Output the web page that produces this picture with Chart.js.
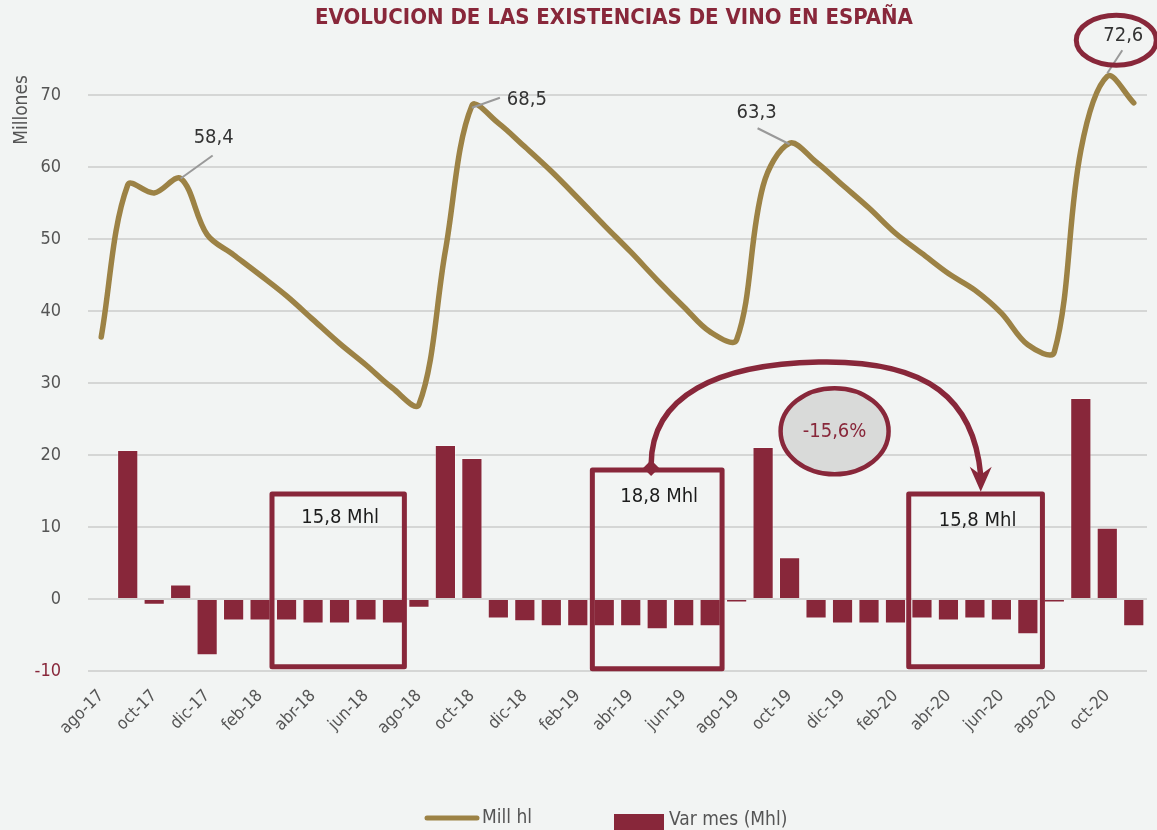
<!DOCTYPE html>
<html lang="es">
<head>
<meta charset="utf-8">
<title>Evolución de las existencias de vino en España</title>
<script src="https://cdn.jsdelivr.net/npm/chart.js@4.4.1/dist/chart.umd.min.js"></script>
<style>
  html, body { margin: 0; padding: 0; background: #f2f4f3; }
  #wrap { width: 1157px; height: 830px; position: relative; }
</style>
</head>
<body>
<div id="wrap"><canvas id="chart" width="1157" height="830"></canvas></div>
<script>
// Months from ago-17 to nov-20
const months = [
  'ago-17','sep-17','oct-17','nov-17','dic-17',
  'ene-18','feb-18','mar-18','abr-18','may-18','jun-18','jul-18','ago-18','sep-18','oct-18','nov-18','dic-18',
  'ene-19','feb-19','mar-19','abr-19','may-19','jun-19','jul-19','ago-19','sep-19','oct-19','nov-19','dic-19',
  'ene-20','feb-20','mar-20','abr-20','may-20','jun-20','jul-20','ago-20','sep-20','oct-20','nov-20'
];

// Stock level, millions of hl
const stockMhl = [
  36.4, 57.5, 56.4, 58.4, 50.6,
  47.8, 45.0, 42.1, 38.8, 35.5, 32.5, 29.3, 27.0, 48.4, 68.5, 66.1, 62.8,
  59.4, 55.7, 51.9, 48.2, 44.3, 40.6, 37.1, 36.0, 57.4, 63.3, 60.7, 57.5,
  54.3, 50.8, 48.0, 45.2, 42.9, 39.7, 35.3, 34.3, 62.3, 72.6, 68.9
];

// Month-on-month change, millions of hl
const monthlyChange = [
  null, 20.7, -0.8, 2.0, -7.8,
  -3.0, -3.0, -3.0, -3.4, -3.4, -3.0, -3.4, -1.2, 21.4, 19.6, -2.7, -3.1,
  -3.8, -3.8, -3.8, -3.8, -4.2, -3.8, -3.8, -0.5, 21.1, 5.8, -2.7, -3.4,
  -3.4, -3.4, -2.7, -3.0, -2.7, -3.0, -4.9, -0.5, 27.9, 9.9, -3.8
];

// Y axis ticks
const yTicks = [-10, 0, 10, 20, 30, 40, 50, 60, 70];

// Highlighted peaks (month index) and their labels
const peakIndex = [3, 14, 26, 38];
const peakLabels = ['58,4', '68,5', '63,3', '72,6'];

// Summed declines over five-month windows
const windowLabels = ['15,8 Mhl', '18,8 Mhl', '15,8 Mhl'];
const changeLabel = '-15,6%';

const RED = '#88273a';
const GOLD = '#9c8245';
const GREY_TXT = '#555555';
const BG = '#f2f4f3';
const FONT = "'Liberation Sans Narrow', 'DejaVu Sans Condensed', 'Roboto', sans-serif";

// Decorations: highlight boxes, arrow, callouts, legend, titles
const decor = {
  id: 'decor',
  beforeDraw(chart) {
    const c = chart.ctx;
    c.save();
    c.fillStyle = BG;
    c.fillRect(0, 0, chart.width, chart.height);
    c.restore();
  },
  afterDatasetsDraw(chart) {
    const c = chart.ctx;
    const xs = chart.scales.x, ys = chart.scales.y;
    const X = v => xs.getPixelForValue(v);
    const Y = v => ys.getPixelForValue(v);
    c.save();

    // Highlight boxes (month-index span, value span)
    const boxes = [
      { x0: 6.45, x1: 11.45, top: 14.6, bottom: -9.4, label: windowLabels[0], ly: 11.3 },
      { x0: 18.55, x1: 23.45, top: 17.9, bottom: -9.7, label: windowLabels[1], ly: 14.2 },
      { x0: 30.5, x1: 35.55, top: 14.6, bottom: -9.4, label: windowLabels[2], ly: 10.9 }
    ];
    c.lineJoin = 'round';
    c.strokeStyle = RED;
    c.lineWidth = 5;
    boxes.forEach(b => {
      c.strokeRect(X(b.x0), Y(b.top), X(b.x1) - X(b.x0), Y(b.bottom) - Y(b.top));
      c.fillStyle = '#1c1c1c';
      c.font = '20px ' + FONT;
      c.textAlign = 'center';
      c.textBaseline = 'middle';
      c.fillText(b.label, (X(b.x0) + X(b.x1)) / 2 + 2, Y(b.ly));
    });

    // Curved arrow from the middle box to the last box
    c.lineWidth = 5.5;
    c.lineCap = 'round';
    c.beginPath();
    c.moveTo(X(20.77), Y(18.6));
    c.bezierCurveTo(X(20.77), Y(28.3), X(23.3), Y(32.6), X(27.1), Y(32.9));
    c.bezierCurveTo(X(31.3), Y(33.2), X(32.96), Y(27.6), X(33.22), Y(17.2));
    c.stroke();
    // diamond at the start
    const dx = X(20.77), dy = Y(18.2);
    c.fillStyle = RED;
    c.beginPath();
    c.moveTo(dx, dy - 8); c.lineTo(dx + 8, dy); c.lineTo(dx, dy + 8); c.lineTo(dx - 8, dy);
    c.closePath(); c.fill();
    // arrow head
    const ax = X(33.22), ay = Y(14.9);
    c.beginPath();
    c.moveTo(ax, ay);
    c.lineTo(ax - 11, ay - 25);
    c.lineTo(ax, ay - 17);
    c.lineTo(ax + 11, ay - 25);
    c.closePath(); c.fill();

    // Ellipse with the percentage change
    const ex = X(27.7), ey = Y(23.3);
    c.beginPath();
    c.ellipse(ex, ey, 54, 43, 0, 0, Math.PI * 2);
    c.fillStyle = '#d9dad9';
    c.fill();
    c.lineWidth = 4.5;
    c.strokeStyle = RED;
    c.stroke();
    c.fillStyle = RED;
    c.font = '20px ' + FONT;
    c.textAlign = 'center';
    c.textBaseline = 'middle';
    c.fillText(changeLabel, ex, ey + 1);

    // Peak callouts with leader lines (offsets in px from the point)
    const callouts = [
      { lead: [0, 0, 32, -23], text: [33, -41] },
      { lead: [0, 2, 28, -8], text: [55, -6] },
      { lead: [0, 1, -32, -15], text: [-33, -30] },
      { lead: [0, -3, 15, -26], text: [16, -40] }
    ];
    c.lineWidth = 2;
    c.strokeStyle = '#999999';
    c.lineCap = 'butt';
    c.font = '20px ' + FONT;
    c.fillStyle = '#333333';
    peakIndex.forEach((mi, k) => {
      const px = X(mi), py = Y(stockMhl[mi]);
      const o = callouts[k];
      c.beginPath();
      c.moveTo(px + o.lead[0], py + o.lead[1]);
      c.lineTo(px + o.lead[2], py + o.lead[3]);
      c.stroke();
      c.fillText(peakLabels[k], px + o.text[0], py + o.text[1]);
    });

    // Ring around the latest peak label
    const lp = peakIndex[3];
    c.beginPath();
    c.ellipse(X(lp) + 9, Y(stockMhl[lp]) - 36, 40, 25, 0, 0, Math.PI * 2);
    c.lineWidth = 5;
    c.strokeStyle = RED;
    c.stroke();
    c.restore();
  },
  afterDraw(chart) {
    const c = chart.ctx;
    c.save();
    // Title
    c.fillStyle = RED;
    c.font = 'bold 22px ' + FONT;
    c.textAlign = 'center';
    c.textBaseline = 'middle';
    c.fillText('EVOLUCION DE LAS EXISTENCIAS DE VINO EN ESPAÑA', 614, 18);

    // Y axis title
    c.save();
    c.translate(22, 110);
    c.rotate(-Math.PI / 2);
    c.fillStyle = GREY_TXT;
    c.font = '19px ' + FONT;
    c.fillText('Millones', 0, 0);
    c.restore();

    // Legend
    const ds = chart.data.datasets;
    c.lineCap = 'round';
    c.strokeStyle = GOLD;
    c.lineWidth = 5;
    c.beginPath(); c.moveTo(427, 818); c.lineTo(477, 818); c.stroke();
    c.fillStyle = GREY_TXT;
    c.font = '19px ' + FONT;
    c.textAlign = 'left';
    c.fillText(ds[0].label, 482, 818);
    c.fillStyle = RED;
    c.fillRect(614, 814, 50, 16);
    c.fillStyle = GREY_TXT;
    c.fillText(ds[1].label, 669, 820);
    c.restore();
  }
};

new Chart(document.getElementById('chart'), {
  data: {
    labels: months,
    datasets: [
      {
        type: 'line',
        label: 'Mill hl',
        data: stockMhl,
        borderColor: GOLD,
        borderWidth: 5.5,
        borderCapStyle: 'round',
        borderJoinStyle: 'round',
        pointRadius: 0,
        tension: 0.35,
        fill: false,
        order: 0
      },
      {
        type: 'bar',
        label: 'Var mes (Mhl)',
        data: monthlyChange,
        backgroundColor: RED,
        borderColor: 'rgba(255,255,255,0.35)',
        borderWidth: 1,
        barPercentage: 0.8,
        categoryPercentage: 1.0,
        order: 1
      }
    ]
  },
  plugins: [decor],
  options: {
    responsive: false,
    animation: false,
    layout: { padding: { top: 59, right: 10, bottom: 0, left: 0 } },
    plugins: {
      legend: { display: false },
      tooltip: { enabled: false }
    },
    scales: {
      x: {
        offset: true,
        grid: { display: false, drawTicks: false },
        border: { display: false },
        afterFit(scale) {
          scale.height = 159;
          scale.paddingLeft = 0;
          scale.paddingRight = 0;
        },
        ticks: {
          autoSkip: false,
          maxRotation: 45,
          minRotation: 45,
          padding: 15,
          color: GREY_TXT,
          font: { family: FONT, size: 17 },
          callback(value, index) { return index % 2 === 0 ? months[index] : ''; }
        }
      },
      y: {
        min: -10,
        max: 75,
        afterBuildTicks(scale) { scale.ticks = yTicks.map(v => ({ value: v })); },
        afterFit(scale) { scale.width = 88; },
        grid: { color: '#d5d6d5', lineWidth: 2, drawTicks: false },
        border: { display: false },
        ticks: {
          padding: 27,
          color: ctx => (ctx.tick && ctx.tick.value < 0 ? RED : GREY_TXT),
          font: { family: FONT, size: 18 }
        }
      }
    }
  }
});
</script>
</body>
</html>
